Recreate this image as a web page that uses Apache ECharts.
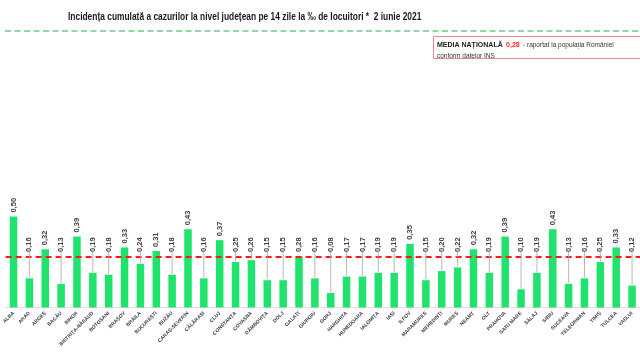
<!DOCTYPE html>
<html>
<head>
<meta charset="utf-8">
<script src="https://cdn.jsdelivr.net/npm/echarts@6/dist/echarts.min.js"></script>
<style>
html,body{margin:0;padding:0;background:#fff;}
#c{width:640px;height:359px;}
</style>
</head>
<body>
<div id="c"></div>
<script>
var counties = ["ALBA","ARAD","ARGEȘ","BACĂU","BIHOR","BISTRIȚA-NĂSĂUD","BOTOȘANI","BRAȘOV","BRĂILA","BUCUREȘTI","BUZĂU","CARAȘ-SEVERIN","CĂLĂRAȘI","CLUJ","CONSTANȚA","COVASNA","DÂMBOVIȚA","DOLJ","GALAȚI","GIURGIU","GORJ","HARGHITA","HUNEDOARA","IALOMIȚA","IAȘI","ILFOV","MARAMUREȘ","MEHEDINȚI","MUREȘ","NEAMȚ","OLT","PRAHOVA","SATU MARE","SĂLAJ","SIBIU","SUCEAVA","TELEORMAN","TIMIȘ","TULCEA","VASLUI"];
var incidence = [0.50,0.16,0.32,0.13,0.39,0.19,0.18,0.33,0.24,0.31,0.18,0.43,0.16,0.37,0.25,0.26,0.15,0.15,0.28,0.16,0.08,0.17,0.17,0.19,0.19,0.35,0.15,0.20,0.22,0.32,0.19,0.39,0.10,0.19,0.43,0.13,0.16,0.25,0.33,0.12];
var nationalAverage = 0.28;
var titleText = "Incidența cumulată a cazurilor la nivel județean pe 14 zile la ‰ de locuitori *  2 iunie 2021";

function fmt(v){ return v.toFixed(2).replace('.', ','); }

var labelFont = 'bold 7.5px "Liberation Sans", Arial, sans-serif';

var chart = echarts.init(document.getElementById('c'), null, {renderer:'canvas'});
chart.setOption({
  animation:false,
  backgroundColor:'#ffffff',
  grid:{left:0.6, right:-9.4, top:125.5, bottom:51.5, containLabel:false},
  xAxis:{
    type:'category',
    data:counties,
    axisTick:{show:false},
    axisLine:{show:true, lineStyle:{color:'#e0e0e0', width:1}},
    axisLabel:{interval:0, rotate:45, fontSize:5, fontWeight:'bold', color:'#404040', margin:5, fontFamily:'"Liberation Sans", Arial, sans-serif'}
  },
  yAxis:{type:'value', min:0, max:1, show:false, splitLine:{show:false}},
  series:[{
    type:'bar',
    data:incidence,
    barWidth:7.5,
    itemStyle:{color:'#1fe36c'},
    markLine:{
      silent:true, symbol:['none','none'],
      label:{show:false},
      lineStyle:{color:'#ff1a1a', type:[6,4], width:2},
      data:[{yAxis:nationalAverage}]
    }
  },{
    type:'custom',
    data:incidence.map(function(v,i){return [i,v];}),
    silent:true,
    z:5,
    renderItem:function(params, api){
      var i = api.value(0), v = api.value(1);
      var top = api.coord([i, v]);
      var target = Math.min(top[1] - 4, 252);
      var children = [];
      if (top[1] - target > 6) {
        children.push({type:'line', shape:{x1:top[0], y1:top[1]-1, x2:top[0], y2:target}, style:{stroke:'#a6a6a6', lineWidth:0.8}});
      }
      children.push({type:'text', x:top[0], y:target, rotation:Math.PI/2,
        style:{text:fmt(v), font:labelFont, fill:'#404040', align:'left', verticalAlign:'middle'}});
      return {type:'group', children:children};
    }
  }],
  graphic:[
    {type:'text', x:68, y:17, scaleX:0.84, style:{text:titleText, font:'bold 10px "Liberation Sans", Arial, sans-serif', fill:'#1a1a1a', verticalAlign:'middle', align:'left'}},
    {type:'line', shape:{x1:5, y1:31, x2:640, y2:31}, style:{stroke:'#8fd9a8', lineWidth:1.8, lineDash:[6,3.5]}},
    {type:'rect', shape:{x:433.5, y:36.5, width:220, height:22}, style:{fill:'#ffffff', stroke:'#f08a8a', lineWidth:1}},
    {type:'text', x:437, y:39, style:{
      text:'{b|MEDIA NAȚIONALĂ} {r|' + fmt(nationalAverage) + '} {n|- raportat la populația României}\n{n|conform datelor INS}',
      rich:{
        b:{font:'bold 7px "Liberation Sans", Arial, sans-serif', fill:'#222', lineHeight:9.5},
        r:{font:'bold 7px "Liberation Sans", Arial, sans-serif', fill:'#ff2020', lineHeight:9.5},
        n:{font:'6.5px "Liberation Sans", Arial, sans-serif', fill:'#333', lineHeight:9.5}
      }
    }}
  ]
});
</script>
</body>
</html>
